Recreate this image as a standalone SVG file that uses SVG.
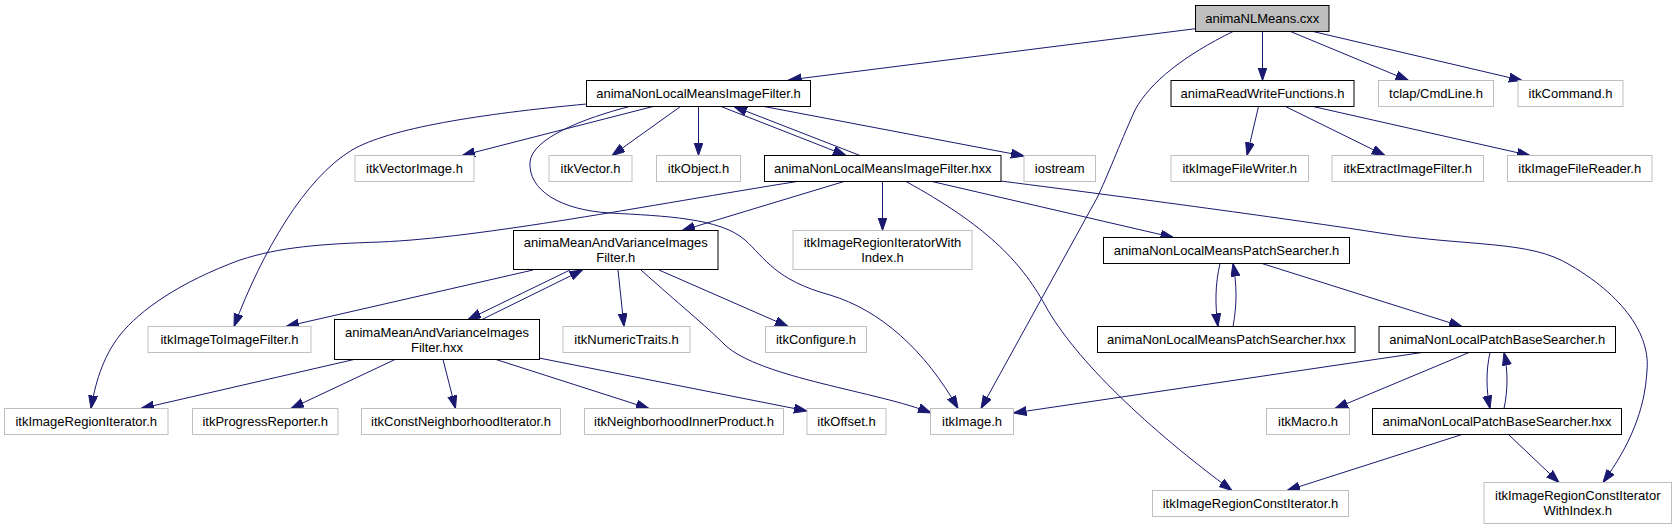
<svg xmlns="http://www.w3.org/2000/svg" width="1676" height="529" viewBox="0 0 1676 529">
<style>
.n rect{fill:#fff;stroke:#000;stroke-width:1}
.g rect{fill:#fff;stroke:#bfbfbf;stroke-width:1}
.root rect{fill:#bfbfbf;stroke:#000;stroke-width:1}
text{font-family:"Liberation Sans",Arial,sans-serif;font-size:13px;fill:#000;text-anchor:middle}
.e path{fill:none;stroke:#191970;stroke-width:1;marker-end:url(#a)}
</style>
<defs>
<marker id="a" markerWidth="14" markerHeight="10" refX="13" refY="4.5" orient="auto" markerUnits="userSpaceOnUse">
<path d="M0,0 L13,4.5 L0,9 z" fill="#191970" stroke="#191970" stroke-width="1"/>
</marker>
</defs>
<rect width="1676" height="529" fill="#fff"/>
<g class="e" id="edges">
<path d="M1195.5,28.7 L788.5,80"/>
<path d="M1233,31.5 C1185,55 1150,82 1135,110 C1118,148 1108,175 1097,198 L981,408.5"/>
<path d="M1262.5,31.5 L1262.5,80.5"/>
<path d="M1290.5,31.5 L1408.5,80.5"/>
<path d="M1313,31.5 L1522,80.5"/>
<path d="M653,106.5 L462,155.5"/>
<path d="M680.5,106.5 L612,155.5"/>
<path d="M698.5,106.5 L698.5,155.5"/>
<path d="M721,106.5 L846,155.5"/>
<path d="M860,155.5 L734,106.5"/>
<path d="M764,106.5 L1024,156"/>
<path d="M586.5,104 C480,114 390,128 352,150 C305,178 262,252 234,326.5"/>
<path d="M629.5,106.5 C585,118 532,138 530,162 C528,190 560,210 610,213 C665,216 720,218 745,240 C765,258 775,280 830,295 C880,310 925,350 958,408.5"/>
<path d="M844,181.5 L682,230.5"/>
<path d="M797,181.5 C650,205 480,238 380,242 C320,244 280,247 240,260 C180,282 140,310 120,335 C102,358 95,385 91,408.5"/>
<path d="M882.5,181.5 L882.5,230.5"/>
<path d="M932,181.5 L1173.5,237.5"/>
<path d="M906,181.5 C985,225 1020,260 1045,305 C1075,360 1150,430 1232,490.5"/>
<path d="M1000.5,181 C1150,200 1310,222 1380,233 C1470,247 1530,240 1570,265 C1630,300 1650,340 1647,370 C1645,410 1630,445 1603,482.5"/>
<path d="M533,270 L286,326.5"/>
<path d="M570,270 L468,319.5"/>
<path d="M482,319.5 L582.5,270"/>
<path d="M618,270 L624,326.5"/>
<path d="M659,270 L788,326.5"/>
<path d="M641,270 C680,305 705,325 725,345 C760,378 880,392 931,413"/>
<path d="M354,359.5 L141,408.5"/>
<path d="M395,359.5 L291,408.5"/>
<path d="M443,359.5 L455.5,408.5"/>
<path d="M496,359.5 L649,408.5"/>
<path d="M539,358 L807,411"/>
<path d="M1258.5,106.5 L1247,155.5"/>
<path d="M1285.5,106.5 L1385,155.5"/>
<path d="M1313,106.5 L1530,155.5"/>
<path d="M1220,263.5 C1215,285 1215,305 1218,326.5"/>
<path d="M1233,326.5 C1237,305 1237,285 1233,263.5"/>
<path d="M1262,263.5 L1462,326.5"/>
<path d="M1422,352.5 L1013.5,413"/>
<path d="M1469,352.5 L1335,408.5"/>
<path d="M1490,352.5 C1486,370 1486,390 1490,408.5"/>
<path d="M1504,408.5 C1508,390 1508,370 1504,352.5"/>
<path d="M1462,434.5 L1287,490.5"/>
<path d="M1508.5,434.5 L1559,482.5"/>
</g>
<g id="n1" class="root"><rect x="1195.5" y="5.5" width="133.5" height="26"/><text x="1262.25" y="23">animaNLMeans.cxx</text></g>
<g id="n2" class="n"><rect x="586.5" y="80.5" width="224" height="26"/><text x="698.5" y="98">animaNonLocalMeansImageFilter.h</text></g>
<g id="n3" class="n"><rect x="1171" y="80.5" width="183" height="26"/><text x="1262.5" y="98">animaReadWriteFunctions.h</text></g>
<g id="n4" class="g"><rect x="1378.5" y="80.5" width="115" height="26"/><text x="1436" y="98">tclap/CmdLine.h</text></g>
<g id="n5" class="g"><rect x="1518" y="80.5" width="105" height="26"/><text x="1570.5" y="98">itkCommand.h</text></g>
<g id="n6" class="g"><rect x="355" y="155.5" width="119" height="26"/><text x="414.5" y="173">itkVectorImage.h</text></g>
<g id="n7" class="g"><rect x="549" y="155.5" width="83" height="26"/><text x="590.5" y="173">itkVector.h</text></g>
<g id="n8" class="g"><rect x="656.5" y="155.5" width="84" height="26"/><text x="698.5" y="173">itkObject.h</text></g>
<g id="n9" class="n"><rect x="764.5" y="155.5" width="236.5" height="26"/><text x="882.75" y="173">animaNonLocalMeansImageFilter.hxx</text></g>
<g id="n10" class="g"><rect x="1024" y="155.5" width="71.5" height="26"/><text x="1059.75" y="173">iostream</text></g>
<g id="n11" class="g"><rect x="1171" y="155.5" width="137.5" height="26"/><text x="1239.75" y="173">itkImageFileWriter.h</text></g>
<g id="n12" class="g"><rect x="1332" y="155.5" width="151.5" height="26"/><text x="1407.75" y="173">itkExtractImageFilter.h</text></g>
<g id="n13" class="g"><rect x="1507.5" y="155.5" width="144.5" height="26"/><text x="1579.75" y="173">itkImageFileReader.h</text></g>
<g id="n14" class="n"><rect x="513.5" y="230.5" width="204.5" height="39"/><text x="615.75" y="247">animaMeanAndVarianceImages</text><text x="615.75" y="262">Filter.h</text></g>
<g id="n15" class="g"><rect x="793" y="230.5" width="179" height="39"/><text x="882.5" y="247">itkImageRegionIteratorWith</text><text x="882.5" y="262">Index.h</text></g>
<g id="n16" class="n"><rect x="1103.5" y="237.5" width="246" height="26"/><text x="1226.5" y="255">animaNonLocalMeansPatchSearcher.h</text></g>
<g id="n17" class="g"><rect x="148" y="326.5" width="163" height="26"/><text x="229.5" y="344">itkImageToImageFilter.h</text></g>
<g id="n18" class="n"><rect x="334.5" y="319.5" width="205" height="40"/><text x="437" y="336.5">animaMeanAndVarianceImages</text><text x="437" y="351.5">Filter.hxx</text></g>
<g id="n19" class="g"><rect x="563" y="326.5" width="127" height="26"/><text x="626.5" y="344">itkNumericTraits.h</text></g>
<g id="n20" class="g"><rect x="765.5" y="326.5" width="101" height="26"/><text x="816" y="344">itkConfigure.h</text></g>
<g id="n21" class="n"><rect x="1097.5" y="326.5" width="257.5" height="26"/><text x="1226.25" y="344">animaNonLocalMeansPatchSearcher.hxx</text></g>
<g id="n22" class="n"><rect x="1379" y="326.5" width="236.5" height="26"/><text x="1497.25" y="344">animaNonLocalPatchBaseSearcher.h</text></g>
<g id="n23" class="g"><rect x="4.5" y="408.5" width="163.5" height="26"/><text x="86.25" y="426">itkImageRegionIterator.h</text></g>
<g id="n24" class="g"><rect x="192.5" y="408.5" width="145.5" height="26"/><text x="265.25" y="426">itkProgressReporter.h</text></g>
<g id="n25" class="g"><rect x="361.5" y="408.5" width="199" height="26"/><text x="461" y="426">itkConstNeighborhoodIterator.h</text></g>
<g id="n26" class="g"><rect x="584.5" y="408.5" width="199" height="26"/><text x="684" y="426">itkNeighborhoodInnerProduct.h</text></g>
<g id="n27" class="g"><rect x="807" y="408.5" width="79" height="26"/><text x="846.5" y="426">itkOffset.h</text></g>
<g id="n28" class="g"><rect x="930.5" y="408.5" width="83" height="26"/><text x="972" y="426">itkImage.h</text></g>
<g id="n29" class="g"><rect x="1266.5" y="408.5" width="83" height="26"/><text x="1308" y="426">itkMacro.h</text></g>
<g id="n30" class="n"><rect x="1372.5" y="408.5" width="249" height="26"/><text x="1497" y="426">animaNonLocalPatchBaseSearcher.hxx</text></g>
<g id="n31" class="g"><rect x="1152.5" y="490.5" width="196" height="26"/><text x="1250.5" y="508">itkImageRegionConstIterator.h</text></g>
<g id="n32" class="g"><rect x="1484" y="482.5" width="187.5" height="41"/><text x="1577.75" y="500">itkImageRegionConstIterator</text><text x="1577.75" y="515">WithIndex.h</text></g>
</svg>
